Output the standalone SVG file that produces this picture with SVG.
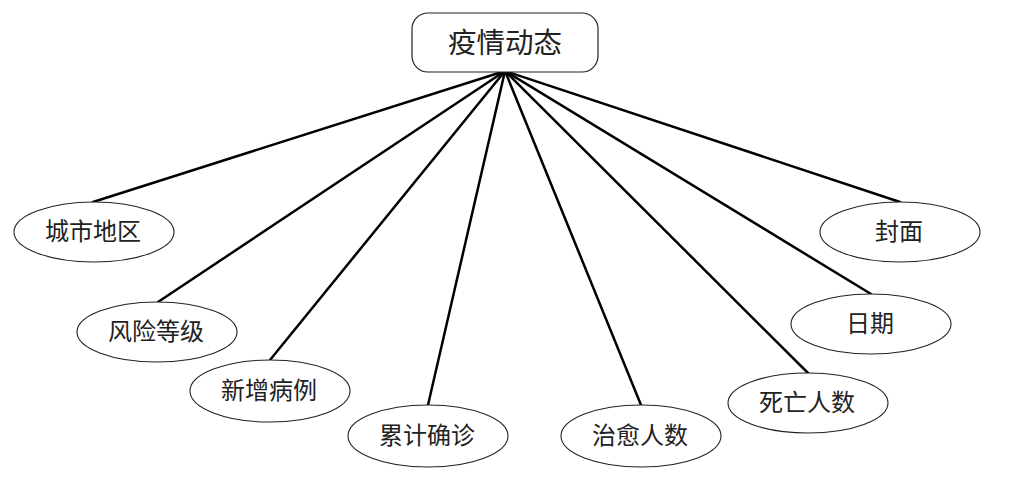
<svg xmlns="http://www.w3.org/2000/svg" width="1019" height="488" viewBox="0 0 1019 488">
<style>
.box{fill:#fff;stroke:#222;stroke-width:1.2}
.ell{fill:#fff;stroke:#222;stroke-width:1.1}
.ln{stroke:#000;stroke-width:2.5;fill:none;stroke-linecap:round}
text{font-family:"Liberation Serif","Noto Sans CJK SC",serif;fill:#222;text-anchor:middle;dominant-baseline:central}
.t{font-size:24px}
.tt{font-size:28.5px}
</style>
<rect width="1019" height="488" fill="#fff"/>
<g id="connectors">
<line class="ln" x1="505" y1="71" x2="93" y2="202"/>
<line class="ln" x1="505" y1="71" x2="158" y2="302"/>
<line class="ln" x1="505" y1="71" x2="270" y2="360"/>
<line class="ln" x1="505" y1="71" x2="428" y2="405"/>
<line class="ln" x1="505" y1="71" x2="641" y2="405"/>
<line class="ln" x1="505" y1="71" x2="808" y2="373"/>
<line class="ln" x1="505" y1="71" x2="871" y2="294"/>
<line class="ln" x1="505" y1="71" x2="900" y2="202"/>
</g>
<g id="root">
<rect class="box" x="412" y="13" width="186" height="59" rx="16"/>
<text class="tt" x="505" y="43">疫情动态</text>
</g>
<g id="n1"><ellipse class="ell" cx="94" cy="232" rx="80" ry="30"/><text class="t" x="93" y="232">城市地区</text></g>
<g id="n2"><ellipse class="ell" cx="157" cy="332" rx="80" ry="30"/><text class="t" x="156" y="332">风险等级</text></g>
<g id="n3"><ellipse class="ell" cx="270" cy="391" rx="80" ry="31"/><text class="t" x="269" y="391">新增病例</text></g>
<g id="n4"><ellipse class="ell" cx="428" cy="436" rx="80" ry="31"/><text class="t" x="427" y="436">累计确诊</text></g>
<g id="n5"><ellipse class="ell" cx="641" cy="436" rx="80" ry="31"/><text class="t" x="640" y="436">治愈人数</text></g>
<g id="n6"><ellipse class="ell" cx="808" cy="403" rx="80" ry="30"/><text class="t" x="807" y="403">死亡人数</text></g>
<g id="n7"><ellipse class="ell" cx="871" cy="324" rx="80" ry="30"/><text class="t" x="870" y="324">日期</text></g>
<g id="n8"><ellipse class="ell" cx="900" cy="232" rx="80" ry="30"/><text class="t" x="899" y="232">封面</text></g>
</svg>
